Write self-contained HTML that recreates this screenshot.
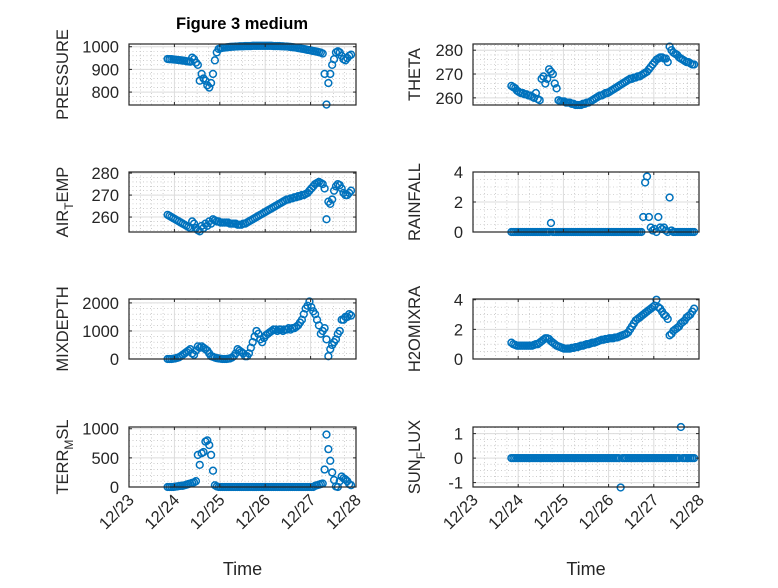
<!DOCTYPE html>
<html><head><meta charset="utf-8"><style>
html,body{margin:0;padding:0;background:#fff}
svg text{font-family:"Liberation Sans",sans-serif;fill:#262626}
</style></head><body>
<svg id="fig" width="778" height="583" viewBox="0 0 778 583" xmlns="http://www.w3.org/2000/svg">
<rect width="778" height="583" fill="#fff"/>
<text x="242" y="29" font-size="16.5" font-weight="bold" text-anchor="middle" style="fill:#000">Figure 3 medium</text>
</svg>
<script>
const xTicks = ["12/23","12/24","12/25","12/26","12/27","12/28"];
const tStart = 0.85, tStep = 1/24;
const pressure = [946,945,945,944, 943,942,941,940,939,938,936,935, 934,952,945,930, 920,850,880,860,850,830,820,840, 880,940,975,990, 993,995,996,997,998,999,1000,1000, 1001,1001,1002,1002,1002,1003,1003,1003,1003,1004,1004,1004,1004,1004,1004,1004,1004,1004,1004,1004,1003,1003,1003,1003, 1002,1002,1001,1001,1000,999,998,997,996,994,993,991,990,988,986,985, 983,981,980,978,976,974,970,880, 745,840,880,920,945,975,980,975,960,945,940,950,960,965];
const airTemp = [261,260.5,260,259.5, 259,258.5,258,257.5,257,256.5,256,255.5, 255,258,257,255, 254,253.5,256,255,257,256,258,257, 259,258.5,258,258, 257.5,257.5,257.5,257.5,257.5,257,257,257, 257,256.5,256.5,256.5,257,257,257.5,258,258.5,259,259.5,260,260.5,261,261.5,262,262.5,263,263.5,264,264.5,265,265.5,266, 266.5,267,267.5,268,268,268.5,268.5,269,269,269.5,269.5,270,270,270.5,271,272, 273,274,275,275.5,276,275.5,275,273, 259,267,266,268,272,274,275,274.5,273,271,270,270,271,272];
const mixDepth = [0,0,0,10, 20,40,60,100,150,200,250,300, 350,200,150,300, 450,400,450,400,350,300,200,100, 80,50,30,20, 10,0,0,0,10,20,50,100, 200,350,300,250,200,100,100,200,400,600,800,1000,900,700,600,750,850,900,950,1000,1050,1050,1000,1050, 1050,1000,1050,1050,1100,1050,1100,1100,1150,1200,1300,1400,1600,1800,1900,2050, 1850,1700,1600,1400,1200,900,1000,1100, 700,100,350,500,600,700,900,1000,1400,1400,1500,1500,1600,1550];
const terrMsl = [0,0,0,0,5,10,15,20,20,30,40,50, 60,70,80,100, 550,380,580,600,780,800,720,550, 280,30,10,0, 0,0,0,0,0,0,0,0,0,0,0,0,0,0,0,0,0,0,0,0,0,0,0,0,0,0,0,0,0,0,0,0,0,0,0,0,0,0,0,0,0,0,0,0,0,0,0,0,0,0,20,30, 40,50,60,300, 900,650,450,250,120,10,0,100,180,150,130,100,50,30];
const theta = [265,264.5,264,263, 262.5,262,262,261.5,261.5,261,261,260.5, 260,262,259.5,259, 268,269,266,268,272,271,270,266, 264,259,258.5,258.5, 258.5,258,258,258,257.5,257.5,257,257, 257,257,257.5,257.5,258,258,258.5,259,259.5,260,260.5,261,261,261.5,262,262,262.5,263,263.5,264,264.5,265,265.5,266, 266.5,267,267.5,268,268,268.5,268.5,269,269,269.5,270,270.5,271,272,273,274, 275,276,276.5,277,277,276.5,276.5,275, 281.5,280,279,278.5,278,277,276.5,276,275.5,275,275,274.5,274,274];
const rainfall = [0,0,0,0,0,0,0,0,0,0,0,0,0,0,0,0,0,0,0,0,0,0.6,0,0,0,0,0,0,0,0,0,0,0,0,0,0,0,0,0,0,0,0,0,0,0,0,0,0,0,0,0,0,0,0,0,0,0,0,0,0,0,0,0,0,0,0,0,0,0,0,1.0,3.3,3.7,1.0,0.3,0.1,0.2,0,1.0,0.3,0.2,0.3,0.1,0,2.3,0.1,0,0,0,0,0,0,0,0,0,0,0,0];
const h2oMixra = [1.1,1.0,0.95,0.9, 0.9,0.9,0.9,0.9,0.9,0.9,0.9,0.9, 0.95,1.0,1.0,1.1, 1.2,1.3,1.4,1.4,1.35,1.2,1.1,1.0, 0.9,0.85,0.8,0.75, 0.7,0.7,0.7,0.7,0.75,0.75,0.8,0.8, 0.85,0.9,0.9,0.95,1.0,1.0,1.05,1.1,1.1,1.15,1.2,1.25,1.3,1.3,1.35,1.35,1.4,1.4,1.4,1.45,1.45,1.5,1.55,1.6, 1.65,1.7,1.8,2.0,2.2,2.4,2.6,2.7,2.8,2.9,3.0,3.1,3.2,3.3,3.4,3.5, 3.6,4.0,3.5,3.4,3.2,3.0,2.9,2.7, 1.6,1.7,1.9,2.0,2.1,2.2,2.4,2.5,2.6,2.8,2.9,3.0,3.2,3.4];
const sunFlux = [0,0,0,0,0,0,0,0,0,0,0,0,0,0,0,0,0,0,0,0,0,0,0,0,0,0,0,0,0,0,0,0,0,0,0,0,0,0,0,0,0,0,0,0,0,0,0,0,0,0,0,0,0,0,0,0,0,0,-1.2,0,0,0,0,0,0,0,0,0,0,0,0,0,0,0,0,0,0,0,0,0,0,0,0,0,0,0,0,0,0,0,1.27,0,0,0,0,0,0,0];

const NS="http://www.w3.org/2000/svg";
const svg=document.getElementById('fig');
function mk(tag,attrs,parent){const e=document.createElementNS(NS,tag);for(const k in attrs)e.setAttribute(k,attrs[k]);(parent||svg).appendChild(e);return e;}

const cols=[[129,356],[473,699]];
const rows=[[44,105],[172,232],[299,359],[427,487]];
const panels=[
 {key:'pressure',data:pressure,col:0,row:0,yl:[743,1012],ticks:[800,900,1000],minor:20,label:['PRESSURE']},
 {key:'theta',data:theta,col:1,row:0,yl:[257,282.6],ticks:[260,270,280],minor:2,label:['THETA']},
 {key:'air-temp',data:airTemp,col:0,row:1,yl:[253.2,280.5],ticks:[260,270,280],minor:2,label:['AIR','T','EMP']},
 {key:'rainfall',data:rainfall,col:1,row:1,yl:[0,4],ticks:[0,2,4],minor:0.5,label:['RAINFALL']},
 {key:'mixdepth',data:mixDepth,col:0,row:2,yl:[0,2140],ticks:[0,1000,2000],minor:200,label:['MIXDEPTH']},
 {key:'h2omixra',data:h2oMixra,col:1,row:2,yl:[0,4.05],ticks:[0,2,4],minor:0.5,label:['H2OMIXRA']},
 {key:'terr-msl',data:terrMsl,col:0,row:3,yl:[0,1030],ticks:[0,500,1000],minor:100,label:['TERR','M','SL']},
 {key:'sun-flux',data:sunFlux,col:1,row:3,yl:[-1.18,1.27],ticks:[-1,0,1],minor:0.25,label:['SUN','F','LUX']}
];

panels.forEach(p=>{
 const [x0,x1]=cols[p.col],[y0,y1]=rows[p.row];
 const xs=t=>x0+(t/5)*(x1-x0);
 const ys=v=>y1-(v-p.yl[0])/(p.yl[1]-p.yl[0])*(y1-y0);
 const g=mk('g',{});
 
 
 mk('rect',{x:x0,y:y0,width:x1-x0,height:y1-y0,fill:'#fff'},g);
 for(let t=0.25;t<5;t+=0.25){if(Math.abs(t-Math.round(t))<1e-6)continue;mk('line',{x1:xs(t),x2:xs(t),y1:y0,y2:y1,stroke:'#b0b0b0','stroke-width':0.6,'stroke-dasharray':'1,2.5'},g);}
 for(let v=Math.ceil(p.yl[0]/p.minor)*p.minor;v<p.yl[1];v+=p.minor){mk('line',{x1:x0,x2:x1,y1:ys(v),y2:ys(v),stroke:'#b0b0b0','stroke-width':0.6,'stroke-dasharray':'1,2.5'},g);}
 xTicks.forEach((lab,i)=>{mk('line',{x1:xs(i),x2:xs(i),y1:y0,y2:y1,stroke:'#dcdcdc','stroke-width':1},g);});
 p.ticks.forEach(v=>{mk('line',{x1:x0,x2:x1,y1:ys(v),y2:ys(v),stroke:'#dcdcdc','stroke-width':1},g);});
 p.data.forEach((v,i)=>{
  const c=mk('circle',{cx:xs(tStart+i*tStep),cy:ys(v),r:3.4,fill:'none',stroke:'#0072BD','stroke-width':1.5},g);
  
  
 });
 xTicks.forEach((lab,i)=>{mk('line',{x1:xs(i),x2:xs(i),y1:y1,y2:y1-3,stroke:'#262626'},g);mk('line',{x1:xs(i),x2:xs(i),y1:y0,y2:y0+3,stroke:'#262626'},g);});
 p.ticks.forEach(v=>{mk('line',{x1:x0,x2:x0+3,y1:ys(v),y2:ys(v),stroke:'#262626'},g);mk('line',{x1:x1,x2:x1-3,y1:ys(v),y2:ys(v),stroke:'#262626'},g);
  const tl=mk('text',{x:x0-10,y:ys(v)+6,'font-size':16.5,'text-anchor':'end'},g);tl.textContent=v;
  
  
 });
 mk('rect',{x:x0,y:y0,width:x1-x0,height:y1-y0,fill:'none',stroke:'#262626','stroke-width':1.2},g);
 const lx=p.col===0?68:420, ly=(y0+y1)/2;
 const yl=mk('text',{x:0,y:0,'font-size':16.5,'text-anchor':'middle',transform:`translate(${lx},${ly}) rotate(-90)`},g);
 
 
 if(p.label.length===1){yl.textContent=p.label[0];}
 else{
  const a=mk('tspan',{},yl);a.textContent=p.label[0];
  const b=mk('tspan',{dy:5,'font-size':12},yl);b.textContent=p.label[1];
  const c=mk('tspan',{dy:-5},yl);c.textContent=p.label[2];
 }
 if(p.row===3){
  xTicks.forEach((lab,i)=>{
   const t=mk('text',{x:0,y:0,'font-size':16.5,'text-anchor':'end',transform:`translate(${xs(i)+6},${y1+14}) rotate(-45)`},g);
   t.textContent=lab;
   
   
  });
  const xt=mk('text',{x:(x0+x1)/2,y:575,'font-size':18,'text-anchor':'middle'},g);
  xt.textContent='Time';
  
  
 }
});
</script>
</body></html>
